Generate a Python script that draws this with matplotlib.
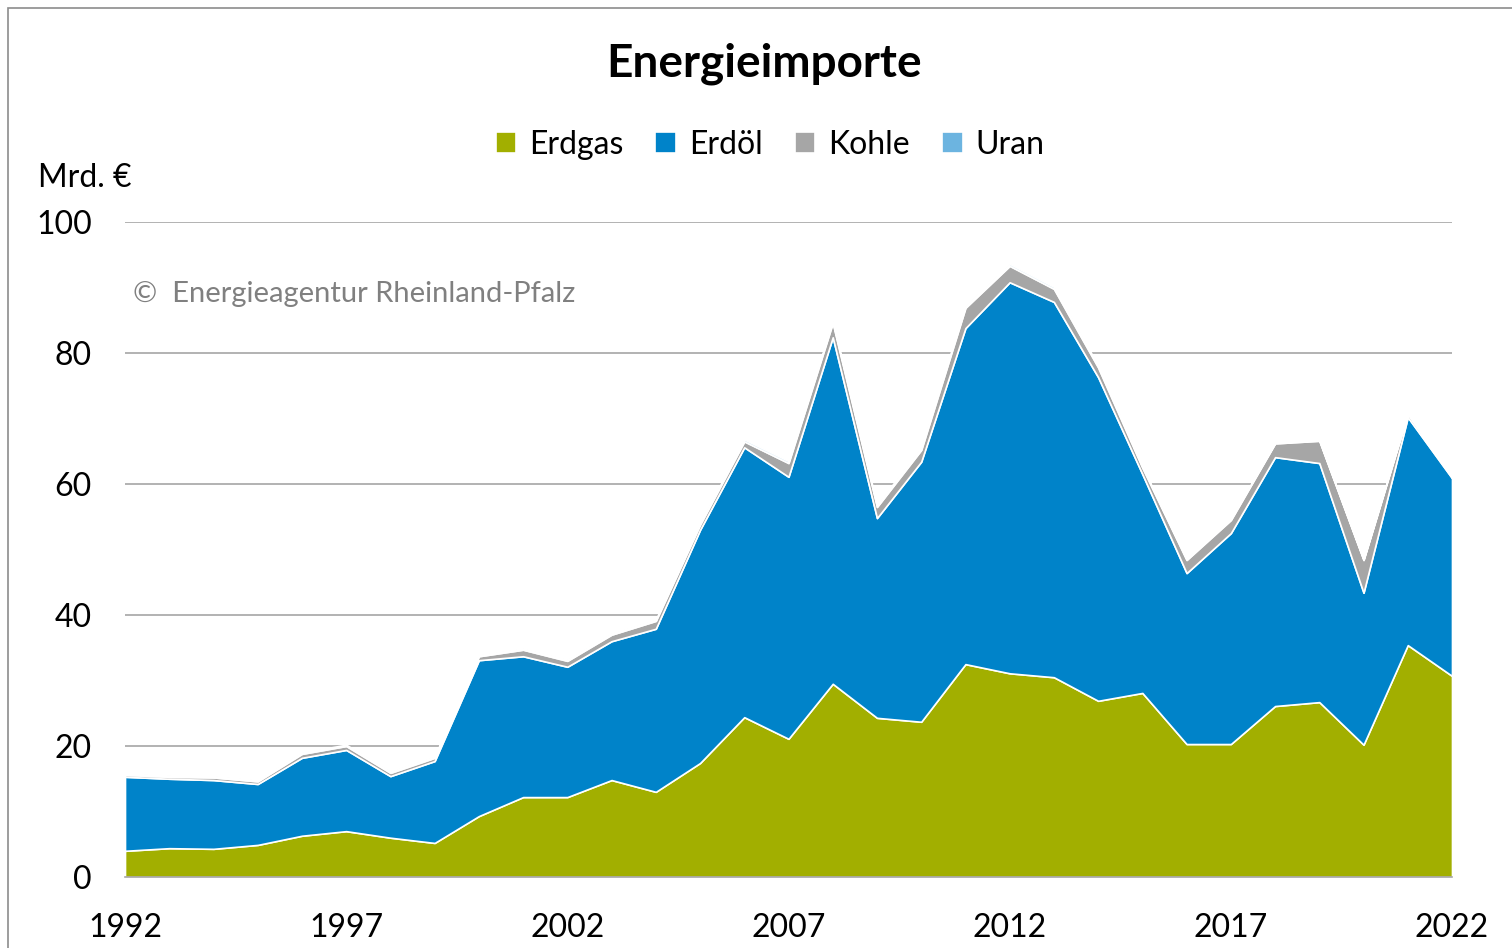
import matplotlib.pyplot as plt
from matplotlib.patches import Rectangle

# Jahre und Werte (Mrd. €)
years = list(range(1992, 2023))
erdgas = [4.0, 4.4, 4.3, 4.9, 6.3, 7.0, 6.0, 5.2, 9.3, 12.2, 12.2, 14.8, 13.0, 17.4, 24.4, 21.1,
          29.5, 24.3, 23.7, 32.5, 31.1, 30.5, 26.9, 28.1, 20.3, 20.3, 26.1, 26.7, 20.2, 35.4, 30.7]
erdoel = [11.3, 10.6, 10.5, 9.3, 11.9, 12.4, 9.4, 12.5, 23.8, 21.5, 19.9, 21.2, 24.9, 35.6, 41.2, 40.0,
          52.9, 30.5, 39.7, 51.3, 59.7, 57.3, 49.4, 33.4, 26.1, 32.2, 38.0, 36.5, 23.2, 34.8, 30.2]
kohle = [0.3, 0.3, 0.4, 0.4, 0.6, 0.6, 0.5, 0.5, 0.6, 1.0, 0.9, 1.0, 1.2, 0.8, 0.9, 2.1,
         2.2, 1.7, 1.8, 3.1, 2.5, 2.0, 1.5, 1.0, 2.0, 2.0, 2.1, 3.4, 5.0, 0.5, 0.3]
uran = [0.2, 0.2, 0.2, 0.2, 0.2, 0.2, 0.2, 0.2, 0.2, 0.2, 0.2, 0.2, 0.2, 0.2, 0.3, 0.3,
        0.3, 0.3, 0.4, 0.3, 0.3, 0.3, 0.3, 0.2, 0.2, 0.2, 0.1, 0.1, 0.1, 0.1, 0.0]

labels = ['Erdgas', 'Erdöl', 'Kohle', 'Uran']
colors = ['#A2AF00', '#0083C9', '#A6A6A6', '#6CB4E0']
xticks = [1992, 1997, 2002, 2007, 2012, 2017, 2022]

plt.rcParams['font.family'] = ['Lato', 'DejaVu Sans']

W, H = 1512, 948
fig = plt.figure(figsize=(W / 100, H / 100), dpi=100)
ax = fig.add_axes([125 / W, 1 - 877 / H, (1452 - 125) / W, (877 - 222) / H])

ax.stackplot(years, erdgas, erdoel, kohle, uran, colors=colors, labels=labels,
             edgecolor='white', linewidth=1.2, zorder=2)

ax.set_xlim(1992, 2022)
ax.set_ylim(0, 100)
ax.set_yticks(range(0, 101, 20))
ax.set_xticks(xticks)
ax.grid(axis='y', color='#A6A6A6', linewidth=1.2, zorder=1)
for s in ['top', 'right', 'left']:
    ax.spines[s].set_visible(False)
ax.spines['bottom'].set_color('#A6A6A6')
ax.spines['bottom'].set_linewidth(1.2)
ax.spines['bottom'].set_zorder(3)
ax.tick_params(length=0, labelsize=23, colors='black')
ax.tick_params(axis='y', pad=24)
ax.tick_params(axis='x', pad=26)

fig.text(764 / W, 1 - 64 / H, 'Energieimporte', fontsize=33, weight='bold',
         ha='center', va='center')
fig.text(38 / W, 1 - 178 / H, 'Mrd. €', fontsize=23, ha='left', va='center')
fig.text(133 / W, 1 - 294 / H, '©  Energieagentur Rheinland-Pfalz', fontsize=21,
         color='#808080', ha='left', va='center')

fig.legend(loc='center', bbox_to_anchor=(770 / W, 1 - 145 / H), ncol=4, frameon=False,
           fontsize=23, handlelength=0.65, handleheight=0.65, handletextpad=0.4,
           columnspacing=1.0)

# Rahmen
fig.patches.append(Rectangle((8 / W, -0.1), 1.2, 1 - 8 / H + 0.1, transform=fig.transFigure,
                             fill=False, edgecolor='#8C8C8C', linewidth=1.2))

fig.savefig('out.png', dpi=100, facecolor='white')
